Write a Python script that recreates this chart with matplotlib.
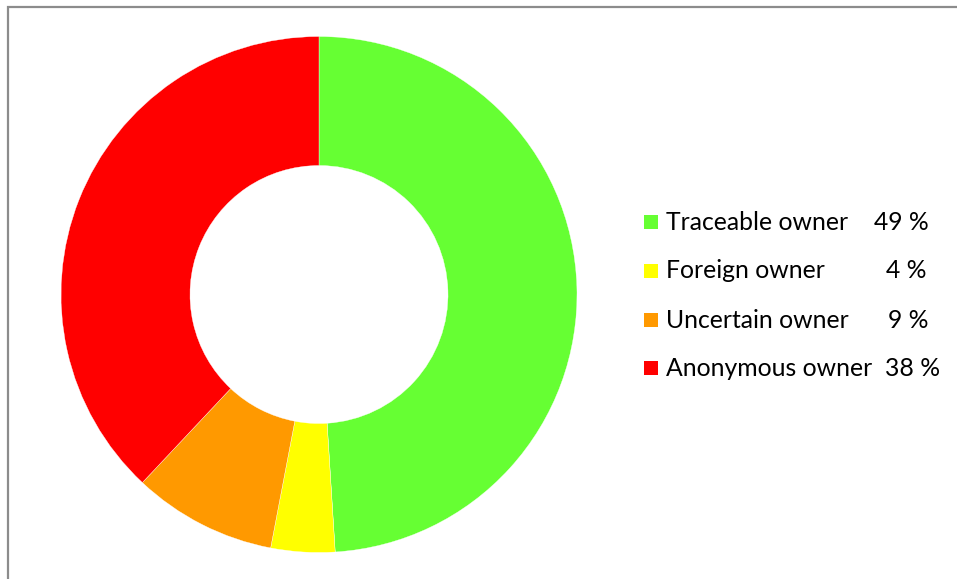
import matplotlib.pyplot as plt
from matplotlib.patches import Rectangle

labels = ["Traceable owner", "Foreign owner", "Uncertain owner", "Anonymous owner"]
shares = [49, 4, 9, 38]
colors = ["#66FF33", "#FFFF00", "#FF9900", "#FF0000"]

W, H = 957, 579
fig = plt.figure(figsize=(W / 100, H / 100), dpi=100)
ax = fig.add_axes([0, 0, 1, 1])

# outer frame (right and bottom edges run off the canvas)
ax.add_patch(Rectangle((7.5, -10), W, H - 6.5 + 10, fill=False,
                       edgecolor="#8c8c8c", linewidth=1.6))

ax.pie(shares, colors=colors, startangle=90, counterclock=False,
       center=(319, H - 294.5), radius=258, frame=True,
       wedgeprops=dict(width=129, edgecolor="white", linewidth=0.25))
ax.set_xlim(0, W)
ax.set_ylim(0, H)
ax.set_aspect("equal")
ax.axis("off")

# legend rows with the percentages
row_y = [222, 271, 320, 368]
pct_right = [929, 926, 928, 940]
for lab, val, col, y, xr in zip(labels, shares, colors, row_y, pct_right):
    yy = H - y
    ax.add_patch(Rectangle((644, yy - 7), 14, 14, facecolor=col, edgecolor="none"))
    ax.text(666, yy, lab, fontsize=17.8, family="Lato", va="center", ha="left")
    ax.text(xr, yy, f"{val} %", fontsize=17.8, family="Lato", va="center", ha="right")

fig.savefig("out.png", dpi=100)
